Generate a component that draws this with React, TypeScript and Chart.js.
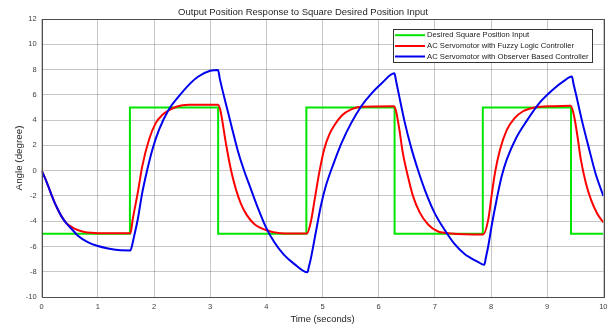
import React, { useEffect, useRef } from "react";
import { Chart, registerables } from "chart.js";

Chart.register(...registerables);

const TITLE = "Output Position Response to Square Desired Position Input";
const X_LABEL = "Time (seconds)";
const Y_LABEL = "Angle (degree)";
const SERIES_LABELS = [
  "Desired Square Position Input",
  "AC Servomotor with Fuzzy Logic Controller",
  "AC Servomotor with Observer Based Controller",
];

const desiredT = [0, 1.5708, 1.5708, 3.1416, 3.1416, 4.7124, 4.7124, 6.2832, 6.2832, 7.854, 7.854, 9.4248, 9.4248, 10];
const desiredAngle = [-5, -5, 5, 5, -5, -5, 5, 5, -5, -5, 5, 5, -5, -5];

const fuzzyT = [
  0, 0.083, 0.172, 0.26, 0.35, 0.44, 0.53, 0.64, 0.76, 0.88, 1.0, 1.58,
  1.62, 1.71, 1.79, 1.91, 2.03, 2.15, 2.26, 2.41, 2.62, 3.14,
  3.18, 3.28, 3.37, 3.46, 3.55, 3.65, 3.78, 4.0, 4.25, 4.72,
  4.79, 4.86, 4.94, 5.03, 5.12, 5.22, 5.34, 5.51, 5.69, 6.27,
  6.31, 6.37, 6.43, 6.52, 6.61, 6.73, 6.88, 7.05, 7.29, 7.86,
  7.95, 8.01, 8.07, 8.16, 8.28, 8.42, 8.57, 8.78, 9.1, 9.42,
  9.48, 9.54, 9.6, 9.69, 9.78, 9.89, 10,
];
const fuzzyAngle = [
  0, -0.84, -1.89, -2.82, -3.6, -4.15, -4.45, -4.7, -4.85, -4.92, -4.95, -4.95,
  -3.87, -1.76, 0.34, 2.45, 3.76, 4.42, 4.76, 5.08, 5.21, 5.22,
  4.8, 2.16, 0.05, -1.5, -2.65, -3.5, -4.2, -4.72, -4.95, -4.98,
  -4.1, -2.3, -0.2, 1.7, 2.85, 3.65, 4.35, 4.85, 5.06, 5.1,
  4.7, 3.2, 1.4, -0.45, -2.0, -3.3, -4.26, -4.8, -4.97, -5.05,
  -3.9, -2.0, -0.2, 1.66, 3.2, 4.15, 4.7, 5.0, 5.1, 5.13,
  4.3, 2.7, 0.87, -1.0, -2.3, -3.4, -4.1,
];

const observerT = [
  0, 0.083, 0.172, 0.26, 0.35, 0.44, 0.53, 0.64, 0.82, 1.0, 1.18, 1.36, 1.58,
  1.61, 1.64, 1.71, 1.79, 1.88, 1.97, 2.09, 2.26, 2.44, 2.62, 2.79, 3.0, 3.14,
  3.17, 3.31, 3.4, 3.49, 3.6, 3.72, 3.84, 4.0, 4.14, 4.31, 4.5, 4.73,
  4.76, 4.79, 4.88, 4.97, 5.06, 5.2, 5.34, 5.51, 5.69, 5.87, 6.05, 6.28,
  6.31, 6.37, 6.46, 6.58, 6.7, 6.82, 6.99, 7.17, 7.35, 7.53, 7.76, 7.88,
  7.91, 7.95, 8.01, 8.1, 8.19, 8.28, 8.45, 8.63, 8.86, 9.1, 9.3, 9.44,
  9.47, 9.51, 9.63, 9.75, 9.86, 10,
];
const observerAngle = [
  0, -0.84, -1.89, -2.82, -3.6, -4.18, -4.6, -5.13, -5.66, -5.97, -6.16, -6.29, -6.32,
  -5.9, -5.3, -3.87, -1.76, 0.08, 1.66, 3.24, 4.82, 5.87, 6.79, 7.45, 7.9, 7.97,
  7.3, 4.75, 3.15, 1.6, 0.05, -1.4, -2.84, -4.55, -5.65, -6.65, -7.4, -8.05,
  -7.55, -7.0, -4.9, -2.8, -1.2, 0.6, 2.2, 3.76, 5.1, 6.1, 6.9, 7.7,
  7.1, 5.8, 3.9, 1.8, 0.05, -1.5, -3.3, -4.66, -5.8, -6.6, -7.2, -7.45,
  -6.85, -6.0, -4.4, -2.3, -0.45, 0.87, 2.6, 3.9, 5.34, 6.4, 7.1, 7.45,
  6.85, 6.1, 3.76, 1.66, -0.2, -2.0,
];

const X_MIN = 0;
const X_MAX = 10;
const X_STEP = 1;
const Y_MIN = -10;
const Y_MAX = 12;
const Y_STEP = 2;

const FONT = "'Liberation Sans', Arial, Helvetica, sans-serif";

function pts(t: number[], v: number[]) {
  return t.map((x, i) => ({ x, y: v[i] }));
}

const boxAndLegend = {
  id: "boxAndLegend",
  afterDatasetsDraw(chart: any) {
    const { ctx, chartArea } = chart;
    const { left, top, right, bottom } = chartArea;
    ctx.save();
    ctx.strokeStyle = "#4d4d4d";
    ctx.lineWidth = 1;
    ctx.strokeRect(Math.round(left) + 0.5, Math.round(top) + 0.5, Math.round(right - left), Math.round(bottom - top));

    ctx.font = `7.7px ${FONT}`;
    const datasets = chart.data.datasets;
    let maxW = 0;
    datasets.forEach((d: any) => {
      maxW = Math.max(maxW, ctx.measureText(d.label).width);
    });
    const lineStart = 1.5;
    const lineLen = 30;
    const textGap = 2;
    const w = lineStart + lineLen + textGap + maxW + 4;
    const h = 33;
    const lx = Math.round(right - 11 - w) + 0.5;
    const ly = Math.round(top + 10) + 0.5;
    ctx.fillStyle = "#ffffff";
    ctx.fillRect(lx, ly, w, h);
    ctx.strokeStyle = "#333333";
    ctx.lineWidth = 1;
    ctx.strokeRect(lx, ly, w, h);
    const rows = [5.7, 16.5, 27];
    datasets.forEach((d: any, i: number) => {
      const y = ly + rows[i];
      ctx.strokeStyle = d.borderColor;
      ctx.lineWidth = 2;
      ctx.beginPath();
      ctx.moveTo(lx + lineStart, y);
      ctx.lineTo(lx + lineStart + lineLen, y);
      ctx.stroke();
      ctx.fillStyle = "#1a1a1a";
      ctx.textBaseline = "middle";
      ctx.textAlign = "left";
      ctx.fillText(d.label, lx + lineStart + lineLen + textGap, y);
    });
    ctx.restore();
  },
};

export default function App() {
  const ref = useRef<HTMLCanvasElement | null>(null);

  useEffect(() => {
    document.body.style.margin = "0";
    const canvas = ref.current;
    if (!canvas) return;
    const chart = new Chart(canvas, {
      type: "line",
      data: {
        datasets: [
          {
            label: SERIES_LABELS[0],
            data: pts(desiredT, desiredAngle),
            borderColor: "#00e600",
            borderWidth: 2,
            pointRadius: 0,
            tension: 0,
            order: 3,
          },
          {
            label: SERIES_LABELS[1],
            data: pts(fuzzyT, fuzzyAngle),
            borderColor: "#ff0000",
            borderWidth: 2,
            pointRadius: 0,
            cubicInterpolationMode: "monotone",
            order: 2,
          },
          {
            label: SERIES_LABELS[2],
            data: pts(observerT, observerAngle),
            borderColor: "#0000ee",
            borderWidth: 2,
            pointRadius: 0,
            cubicInterpolationMode: "monotone",
            order: 1,
          },
        ],
      },
      plugins: [boxAndLegend],
      options: {
        animation: false,
        responsive: false,
        devicePixelRatio: 1,
        layout: { padding: { left: 0, right: 7, top: 0, bottom: 0 } },
        plugins: {
          legend: { display: false },
          tooltip: { enabled: false },
          title: {
            display: true,
            text: TITLE,
            color: "#262626",
            font: { family: FONT, size: 9.5, weight: "normal" },
            padding: { top: 6.5, bottom: 1.1 },
          },
        },
        scales: {
          x: {
            type: "linear",
            min: X_MIN,
            max: X_MAX,
            ticks: {
              stepSize: X_STEP,
              color: "#404040",
              font: { family: FONT, size: 7.5 },
              padding: 5.5,
              maxRotation: 0,
            },
            grid: { color: "rgba(0,0,0,0.22)", drawTicks: false, lineWidth: 1 },
            border: { display: false },
            title: {
              display: true,
              text: X_LABEL,
              color: "#262626",
              font: { family: FONT, size: 9.4 },
              padding: { top: 0, bottom: 1.4 },
            },
            afterFit(scale: any) {
              scale.height = 29;
            },
          },
          y: {
            type: "linear",
            min: Y_MIN,
            max: Y_MAX,
            ticks: {
              stepSize: Y_STEP,
              color: "#404040",
              font: { family: FONT, size: 7.5 },
              padding: 5,
            },
            grid: { color: "rgba(0,0,0,0.22)", drawTicks: false, lineWidth: 1 },
            border: { display: false },
            title: {
              display: true,
              text: Y_LABEL,
              color: "#262626",
              font: { family: FONT, size: 9.8 },
              padding: { top: 13, bottom: 0 },
            },
            afterFit(scale: any) {
              scale.width = 41.7;
            },
          },
        },
      } as any,
    });
    return () => chart.destroy();
  }, []);

  return (
    <div style={{ width: 613, height: 326, position: "relative" }}>
      <canvas ref={ref} width={613} height={326} style={{ display: "block", width: 613, height: 326 }} />
    </div>
  );
}
